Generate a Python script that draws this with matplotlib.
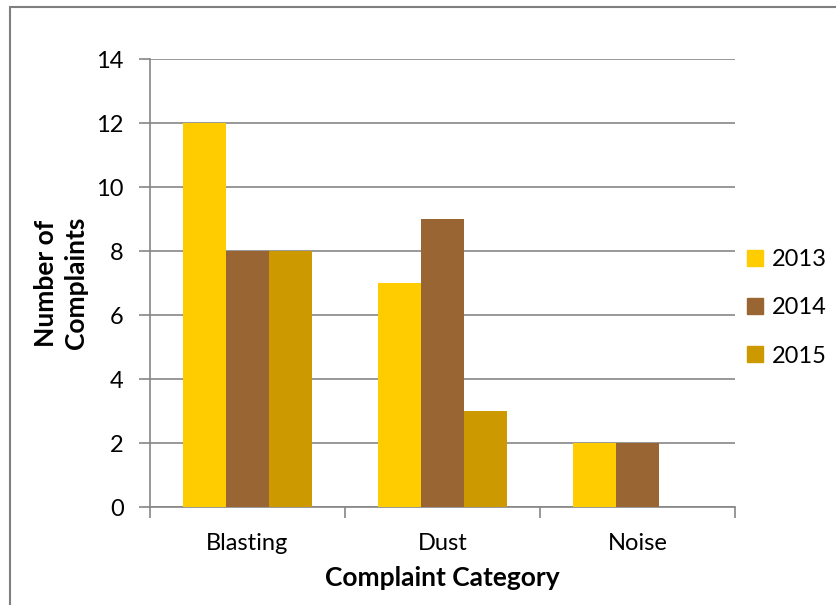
import numpy as np
import matplotlib
matplotlib.use("Agg")
import matplotlib.pyplot as plt
from matplotlib.patches import Rectangle

categories = ["Blasting", "Dust", "Noise"]
years = ["2013", "2014", "2015"]
counts_2013 = [12, 7, 2]
counts_2014 = [8, 9, 2]
counts_2015 = [8, 3, 0]
series = [counts_2013, counts_2014, counts_2015]
colors = ["#FFCC00", "#996633", "#CC9900"]
y_ticks = [0, 2, 4, 6, 8, 10, 12, 14]

plt.rcParams["font.family"] = ["Lato", "DejaVu Sans"]

fig = plt.figure(figsize=(8.37, 6.05), dpi=100)
ax = fig.add_axes([150 / 837, 1 - 507 / 605, 585 / 837, 448 / 605])

grid_c = "#868686"
x = np.arange(len(categories))
bar_w = 0.22
for i, (vals, col, yr) in enumerate(zip(series, colors, years)):
    ax.bar(x + (i - 1) * bar_w, vals, width=bar_w, color=col, label=yr, zorder=3)

ax.set_xlim(-0.5, len(categories) - 0.5)
ax.set_ylim(0, 14)
ax.set_yticks(y_ticks)
ax.set_yticklabels([str(v) for v in y_ticks], fontsize=17)
ax.yaxis.grid(True, color=grid_c, linewidth=1.2, zorder=0)
ax.set_axisbelow(True)

# category labels centered, tick marks at group boundaries
ax.set_xticks(x)
ax.set_xticklabels(categories, fontsize=17)
ax.tick_params(axis="x", length=0, pad=19)
ax.set_xticks(np.arange(len(categories) + 1) - 0.5, minor=True)
ax.tick_params(axis="x", which="minor", length=8, width=1.2, color=grid_c, direction="out")
ax.tick_params(axis="y", length=8, width=1.2, color=grid_c, direction="out", pad=11)

for s in ["top", "right"]:
    ax.spines[s].set_visible(False)
for s in ["left", "bottom"]:
    ax.spines[s].set_color(grid_c)
    ax.spines[s].set_linewidth(1.2)

ax.set_xlabel("Complaint Category", fontsize=19, fontweight="bold", labelpad=8)
ax.set_ylabel("Number of\nComplaints", fontsize=19, fontweight="bold", labelpad=6,
              linespacing=1.3)

handles = [Rectangle((0, 0), 1, 1, color=c) for c in colors]
fig.legend(handles, years, loc="center left", bbox_to_anchor=(726 / 837, 1 - 308 / 605),
           frameon=False, fontsize=17, handlelength=0.65, handleheight=0.65,
           handletextpad=0.4, labelspacing=1.15)

# outer frame around the chart area (right and bottom edges fall outside the canvas)
fig.add_artist(Rectangle((10 / 837, -5 / 605), 840 / 837, 603 / 605, transform=fig.transFigure,
                         fill=False, edgecolor="#7f7f7f", linewidth=1.5))

fig.savefig("out.png", dpi=100)
